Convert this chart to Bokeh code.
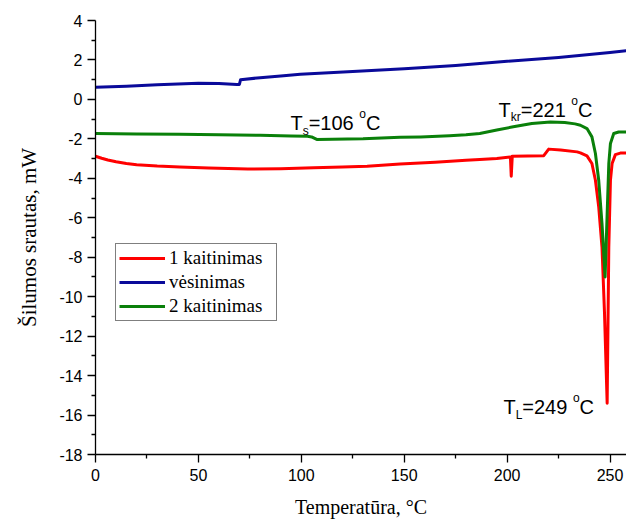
from bokeh.plotting import figure
from bokeh.models import Range1d, Legend, LegendItem, ColumnDataSource, FixedTicker
from bokeh.core.properties import value
from bokeh.embed import file_html
from bokeh.resources import INLINE

# DSC heat flow curves: temperature (°C) and heat flow (mW)
heat1_t = [0, 3, 6, 10, 15, 20, 30, 41, 55, 74, 90, 106, 120, 132, 148, 165, 180,
           186.7, 195, 201.6, 202.0, 202.5, 210, 217.8, 220.2, 226, 234, 235.6, 238.8,
           241.2, 242.9, 244.5, 246.1, 247.3, 248.6, 249.4, 250.2, 251.0, 252.6, 255, 258]
heat1_q = [-2.88, -2.98, -3.07, -3.16, -3.25, -3.31, -3.38, -3.42, -3.48, -3.53, -3.51,
           -3.47, -3.43, -3.39, -3.27, -3.18, -3.09, -3.05, -2.99, -2.92, -3.89, -2.88,
           -2.87, -2.85, -2.52, -2.57, -2.66, -2.71, -2.86, -3.25, -4.1, -5.45, -7.5,
           -10.8, -15.4, -7.5, -4.1, -3.25, -2.8, -2.72, -2.72]

cool_t = [0, 15, 30, 50, 60, 68.7, 69.9, 70.5, 80, 90, 99.5, 125, 150, 175, 200, 225, 250, 258]
cool_q = [0.62, 0.67, 0.74, 0.82, 0.81, 0.75, 0.76, 1.0, 1.1, 1.19, 1.27, 1.42, 1.55,
          1.72, 1.93, 2.13, 2.38, 2.47]

heat2_t = [0, 20, 41, 60, 80, 95, 103, 105, 107.5, 115, 130, 148, 158, 172, 180, 186.7,
           195, 203, 212, 221, 228, 233, 235.6, 238.8, 241.2, 242.9, 244.5, 246.1, 247.6,
           248.6, 249.4, 250.2, 251.8, 254.2, 258]
heat2_q = [-1.73, -1.75, -1.77, -1.79, -1.82, -1.85, -1.87, -1.9, -2.03, -2.02, -2.0,
           -1.92, -1.9, -1.84, -1.79, -1.73, -1.55, -1.39, -1.22, -1.14, -1.17, -1.24,
           -1.31, -1.48, -1.9, -2.74, -4.1, -6.3, -9.0, -5.8, -3.25, -2.23, -1.73, -1.65,
           -1.65]

series_names = ["1 kaitinimas", "vėsinimas", "2 kaitinimas"]
series_colors = ["#ff0000", "#0a0a9a", "#0a800a"]

x_ticks = [0, 50, 100, 150, 200, 250]
x_minor = [25, 75, 125, 175, 225]
y_ticks = [-18, -16, -14, -12, -10, -8, -6, -4, -2, 0, 2, 4]
y_minor = [-17, -15, -13, -11, -9, -7, -5, -3, -1, 1, 3]
y_tick_labels = ["-18", "-16", "-14", "-12", "-10", "-8", "-6", "-4", "-2", "0", "2", "4"]

# transition temperatures written on the chart
t_glass = 106
t_cryst = 221
t_melt = 249

p = figure(width=626, height=522, output_backend="svg", toolbar_location=None,
           x_range=Range1d(0, 258), y_range=Range1d(-18, 4),
           min_border_left=95, min_border_right=0, min_border_top=20,
           min_border_bottom=68)
p.outline_line_color = None
p.xgrid.visible = False
p.ygrid.visible = False
p.background_fill_color = "white"
p.border_fill_color = "white"

r_heat1 = p.line(heat1_t, heat1_q, line_color=series_colors[0], line_width=3, line_join="round")
r_cool = p.line(cool_t, cool_q, line_color=series_colors[1], line_width=3, line_join="round")
r_heat2 = p.line(heat2_t, heat2_q, line_color=series_colors[2], line_width=3, line_join="round")

# axes
p.xaxis.ticker = FixedTicker(ticks=x_ticks, minor_ticks=x_minor)
p.yaxis.ticker = FixedTicker(ticks=y_ticks, minor_ticks=y_minor)
p.yaxis.major_label_overrides = {t: s for t, s in zip(y_ticks, y_tick_labels)}
for ax in (p.xaxis[0], p.yaxis[0]):
    ax.major_tick_in = 0
    ax.major_tick_out = 8
    ax.minor_tick_in = 0
    ax.minor_tick_out = 4
    ax.axis_line_color = "black"
    ax.axis_line_width = 1.3
    ax.major_tick_line_width = 1.3
    ax.minor_tick_line_width = 1.3
    ax.major_label_text_font = "Liberation Sans"
    ax.major_label_text_font_size = "16px"
    ax.major_label_text_color = "black"
    ax.axis_label_text_font = "Liberation Serif"
    ax.axis_label_text_font_style = "normal"
    ax.axis_label_text_color = "black"
p.xaxis.axis_label = "Temperatūra, °C"
p.yaxis.axis_label = "Šilumos srautas, mW"
p.xaxis.axis_label_text_font_size = "20px"
p.yaxis.axis_label_text_font_size = "21px"
p.xaxis.major_label_standoff = 6
p.yaxis.major_label_standoff = 5
p.xaxis.axis_label_standoff = 12
p.yaxis.axis_label_standoff = 15

# legend
legend = Legend(items=[LegendItem(label=series_names[0], renderers=[r_heat1]),
                       LegendItem(label=series_names[1], renderers=[r_cool]),
                       LegendItem(label=series_names[2], renderers=[r_heat2])],
                location=(20, 133))
legend.border_line_color = "black"
legend.border_line_width = 1
legend.background_fill_alpha = 1
legend.label_text_font = "Liberation Serif"
legend.label_text_font_size = "19px"
legend.label_text_color = "black"
legend.glyph_width = 46
legend.glyph_height = 20
legend.label_height = 20
legend.spacing = 2
legend.padding = 3
legend.margin = 0
legend.label_standoff = 4
legend.label_width = 104
p.add_layout(legend)

# annotation labels with sub/superscripts
CHAR_W = {"T": 0.611, "C": 0.722, "L": 0.556, "s": 0.5, "k": 0.5, "r": 0.333,
          "o": 0.556, "=": 0.584, " ": 0.278}


def text_width(s, size):
    return sum(CHAR_W.get(ch, 0.556) for ch in s) * size


def rich_label(x, y, parts):
    data = dict(x=[], y=[], text=[], xo=[], yo=[], size=[])
    off = 0.0
    for txt, size, dy in parts:
        data["x"].append(x)
        data["y"].append(y)
        data["text"].append(txt)
        data["xo"].append(off)
        data["yo"].append(dy)
        data["size"].append(f"{size}px")
        off += text_width(txt, size)
    p.text(x="x", y="y", text="text", x_offset="xo", y_offset="yo",
           text_font_size="size", text_font=value("Liberation Sans"),
           text_color="black", text_align="left", text_baseline="alphabetic",
           source=ColumnDataSource(data))


rich_label(94.7, -1.21, [("T", 20, 0), ("s", 12, 8), (f"={t_glass} ", 20, 0),
                         ("o", 12, -9), ("C", 20, 0)])
rich_label(195.8, -0.55, [("T", 20, 0), ("kr", 12, 7), (f"={t_cryst} ", 20, 0),
                          ("o", 12, -9), ("C", 20, 0)])
rich_label(198.2, -15.57, [("T", 20, 0), ("L", 12, 8), (f"={t_melt} ", 20, 0),
                           ("o", 12, -9), ("C", 20, 0)])

open("out.html", "w").write(file_html(p, INLINE))
